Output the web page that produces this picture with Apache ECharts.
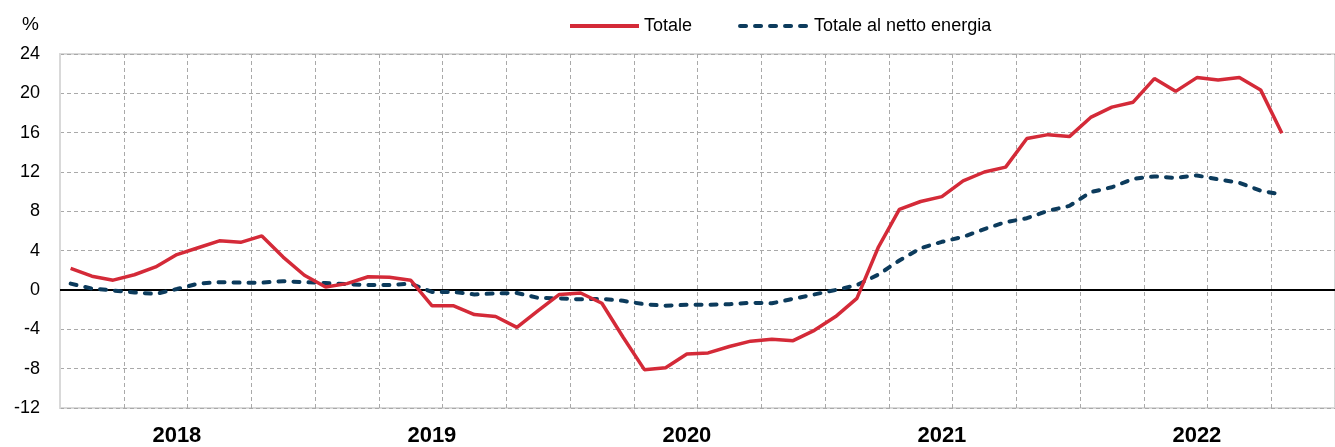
<!DOCTYPE html>
<html>
<head>
<meta charset="utf-8">
<script src="https://cdn.jsdelivr.net/npm/echarts@6/dist/echarts.min.js"></script>
<style>
html,body{margin:0;padding:0;background:#fff;}
#chart{width:1335px;height:447px;}
</style>
</head>
<body>
<div id="chart"></div>
<script>
// Months: Jan 2018 .. Dec 2022 (data available Jan 2018 .. Oct 2022)
const years = ['2018', '2019', '2020', '2021', '2022'];
const months = [];
years.forEach(y => { for (let m = 1; m <= 12; m++) months.push(y + '-' + (m < 10 ? '0' + m : m)); });

const totale = [2.2, 1.4, 1.0, 1.55, 2.35, 3.6, 4.3, 5.0, 4.85, 5.5,
  3.35, 1.5, 0.3, 0.65, 1.35, 1.3, 1.0, -1.6, -1.6, -2.5,
  -2.7, -3.8, -2.1, -0.45, -0.3, -1.35, -4.8, -8.1, -7.9, -6.5,
  -6.4, -5.75, -5.2, -5.0, -5.15, -4.1, -2.7, -0.85, 4.3, 8.2,
  9.0, 9.5, 11.1, 12.0, 12.5, 15.4, 15.8, 15.6, 17.55, 18.6,
  19.1, 21.5, 20.2, 21.6, 21.35, 21.6, 20.35, 15.95];

const nettoEnergia = [0.65, 0.15, -0.05, -0.25, -0.4, 0.1, 0.65, 0.8, 0.75, 0.75,
  0.9, 0.8, 0.7, 0.6, 0.5, 0.5, 0.65, -0.2, -0.2, -0.45,
  -0.35, -0.3, -0.8, -0.85, -0.95, -0.9, -1.1, -1.45, -1.6, -1.5,
  -1.5, -1.45, -1.3, -1.35, -0.9, -0.45, 0.0, 0.5, 1.55, 3.0,
  4.25, 4.9, 5.4, 6.2, 6.9, 7.3, 8.05, 8.55, 9.95, 10.45,
  11.3, 11.55, 11.4, 11.65, 11.25, 10.9, 10.1, 9.7];

const seriesNames = ['Totale', 'Totale al netto energia'];
const yTicks = { min: -12, max: 24, interval: 4 };

const FONT = "'Liberation Sans Narrow', 'Arial Narrow', 'Liberation Sans', Arial, sans-serif";
const RED = '#d42a38';
const BLUE = '#0c3b5c';
const GRID = '#a9a9a9';
const BORDER = '#d9d9d9';

const chart = echarts.init(document.getElementById('chart'), null, { renderer: 'canvas' });
chart.setOption({
  animation: false,
  backgroundColor: '#fff',
  title: {
    text: '%', left: 22, top: 15, padding: 0,
    textStyle: { fontFamily: FONT, fontSize: 19, fontWeight: 'normal', color: '#000' }
  },
  legend: {
    left: 568, top: 17, padding: 0,
    itemWidth: 69, itemHeight: 14, itemGap: 46,
    textStyle: { fontFamily: FONT, fontSize: 18, color: '#000' },
    itemStyle: { color: 'transparent', borderColor: 'transparent', borderWidth: 0, opacity: 0 },
    lineStyle: { width: 4 },
    data: seriesNames
  },
  grid: {
    left: 60, top: 54, width: 1286, height: 356,
    show: true, borderColor: BORDER, borderWidth: 2, backgroundColor: 'transparent',
    containLabel: false
  },
  xAxis: {
    type: 'category',
    data: months,
    boundaryGap: true,
    axisLine: { show: true, lineStyle: { color: BORDER, width: 2 } },
    axisTick: { show: false },
    axisLabel: {
      interval: (i) => i % 12 === 5,
      formatter: (v) => v.slice(0, 4),
      fontFamily: FONT, fontSize: 22, fontWeight: 'bold', color: '#000', margin: 17
    },
    splitLine: {
      show: true,
      interval: (i) => i % 3 === 0 && i > 0,
      lineStyle: { color: GRID, width: 1, type: [4, 3] }
    }
  },
  yAxis: {
    type: 'value',
    min: yTicks.min, max: yTicks.max, interval: yTicks.interval,
    axisLine: { show: true, lineStyle: { color: BORDER, width: 2 } },
    axisTick: { show: false },
    axisLabel: { fontFamily: FONT, fontSize: 18, color: '#000', margin: 20 },
    splitLine: { show: true, lineStyle: { color: GRID, width: 1, type: [4, 3] } }
  },
  series: [
    {
      name: seriesNames[0], type: 'line', data: totale,
      symbol: 'none', showSymbol: false, smooth: false,
      lineStyle: { color: RED, width: 3.5 },
      itemStyle: { color: RED },
      z: 4,
      markLine: {
        silent: true, symbol: 'none', label: { show: false },
        lineStyle: { color: '#000', width: 2, type: 'solid' },
        data: [{ yAxis: 0 }],
        z: 1
      }
    },
    {
      name: seriesNames[1], type: 'line', data: nettoEnergia,
      symbol: 'none', showSymbol: false, smooth: false,
      lineStyle: { color: BLUE, width: 4, type: [6, 9], cap: 'round' },
      itemStyle: { color: BLUE },
      z: 3
    }
  ]
});
</script>
</body>
</html>
